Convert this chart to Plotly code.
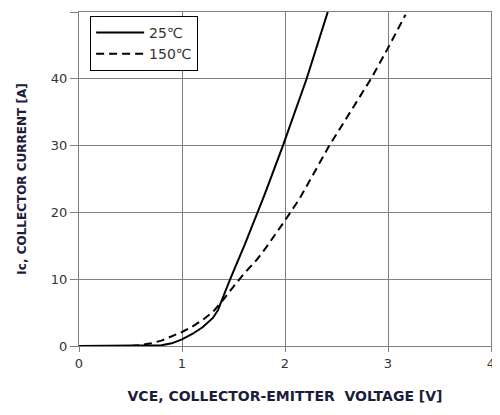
import plotly.graph_objects as go

# Ic vs VCE output characteristic
vce_25 = [0, 0.6, 0.8, 0.9, 1.0, 1.1, 1.2, 1.3, 1.35, 1.39, 1.47, 1.61, 1.8, 1.98, 2.21, 2.415]
ic_25 = [0, 0, 0.1, 0.4, 1.0, 1.8, 2.8, 4.2, 5.4, 7.0, 10.1, 15.2, 22.6, 30, 40, 50]

vce_150 = [0, 0.5, 0.6, 0.7, 0.8, 0.9, 1.0, 1.1, 1.2, 1.3, 1.4, 1.5, 1.6, 1.725, 1.81,
           2.0, 2.14, 2.43, 2.835, 3.0, 3.17]
ic_150 = [0, 0, 0.15, 0.4, 0.8, 1.4, 2.1, 2.9, 3.9, 5.1, 6.9, 8.9, 10.8, 12.9, 14.6,
          18.8, 22, 30, 40, 44.6, 49.6]

x_ticks = [0, 1, 2, 3, 4]
y_ticks = [0, 10, 20, 30, 40, 50]

font = "DejaVu Sans"
title_color = "#1c1c3c"
grid = "gray"

fig = go.Figure()
fig.add_trace(go.Scatter(x=vce_25, y=ic_25, mode="lines", name="25℃", legendgroup="a",
                         line=dict(color="black", width=2)))
fig.add_trace(go.Scatter(x=vce_150, y=ic_150, mode="lines", name="150℃", legendgroup="b",
                         line=dict(color="black", width=2, dash="8px,5px")))

# page body has an 8px margin, so the figure is smaller than the window
fig.update_layout(
    width=492, height=399,
    margin=dict(l=71, r=9, t=4, b=61, autoexpand=False),
    paper_bgcolor="white", plot_bgcolor="white",
    font=dict(family=font, size=12, color="#333333"),
    showlegend=True,
    legend=dict(x=0.027, y=0.988, xanchor="left", yanchor="top",
                bgcolor="white", bordercolor="black", borderwidth=1,
                font=dict(family=font, size=14, color="#333333"),
                tracegroupgap=0, itemwidth=48),
)

fig.update_xaxes(
    range=[0, 4], tickvals=x_ticks, showgrid=True, gridcolor=grid, gridwidth=1,
    zeroline=False, showline=True, linecolor=grid, linewidth=1, mirror=True,
    ticks="outside", ticklen=5, tickcolor=grid, automargin=False,
    tickfont=dict(family=font, size=13, color="#333333"),
    title=dict(text="<b>VCE, COLLECTOR-EMITTER\u00a0\u00a0VOLTAGE [V]</b>", standoff=21,
               font=dict(family=font, size=14, color=title_color)),
)
fig.update_yaxes(
    range=[0, 50], tickvals=y_ticks, showgrid=True, gridcolor=grid, gridwidth=1,
    zeroline=False, showline=True, linecolor=grid, linewidth=1, mirror=True,
    ticks="outside", ticklen=8, tickcolor=grid, automargin=False,
    tickfont=dict(family=font, size=13, color="#333333"),
    title=dict(text="<b>Ic, COLLECTOR CURRENT [A]</b>", standoff=21,
               font=dict(family=font, size=12, color=title_color)),
)

fig.write_html("out.html")
